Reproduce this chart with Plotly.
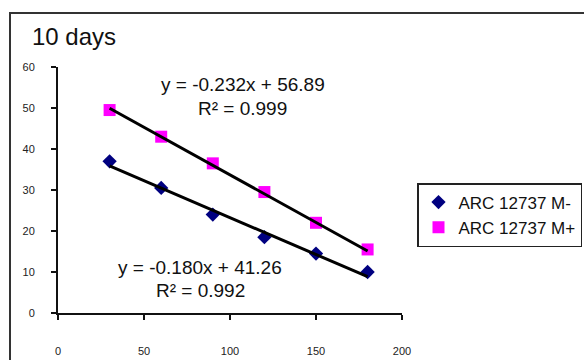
import numpy as np
import plotly.graph_objects as go

# Incubation time and measured values for the two treatments
time_points = [30, 60, 90, 120, 150, 180]
arc_minus = [37.0, 30.5, 24.0, 18.5, 14.5, 10.0]
arc_plus = [49.5, 43.0, 36.5, 29.5, 22.0, 15.5]

series_names = ["ARC 12737 M-", "ARC 12737 M+"]

# Linear trendline coefficients (slope, intercept, R²) for each series
trend_minus = (-0.180, 41.26, 0.992)
trend_plus = (-0.232, 56.89, 0.999)

x_ticks = [0, 50, 100, 150, 200]
y_ticks = [0, 10, 20, 30, 40, 50, 60]

W, H = 584, 360
ML, MR, MT, MB = 58, 182, 67, 47
pw = W - ML - MR
ph = H - MT - MB

FONT = "Liberation Sans, Arial"

fig = go.Figure()

fig.add_trace(go.Scatter(
    x=time_points, y=arc_minus, mode="markers", name=series_names[0],
    marker=dict(symbol="diamond", size=11, color="#000080"),
))
fig.add_trace(go.Scatter(
    x=time_points, y=arc_plus, mode="markers", name=series_names[1],
    marker=dict(symbol="square", size=12, color="#FF00FF"),
))

# Trendlines over the sampled time span
xt = np.array([min(time_points), max(time_points)], dtype=float)
for slope, intercept, _ in (trend_minus, trend_plus):
    fig.add_trace(go.Scatter(
        x=xt, y=slope * xt + intercept, mode="lines", showlegend=False,
        line=dict(color="black", width=3), hoverinfo="skip",
    ))


def eq_lines(t):
    slope, intercept, r2 = t
    return f"y = {slope:.3f}x + {intercept:.2f}", f"R² = {r2:.3f}"


def px_to_x(px):
    return (px - ML) / pw


def px_to_y(py):
    return (H - MB - py) / ph


eq_font = dict(family=FONT, size=19, color="#111")
for t, cx, y1, y2 in ((trend_plus, 243, 85, 108), (trend_minus, 200, 267, 290)):
    l1, l2 = eq_lines(t)
    fig.add_annotation(xref="paper", yref="paper", x=px_to_x(cx), y=px_to_y(y1),
                       text=l1, showarrow=False, font=eq_font,
                       xanchor="center", yanchor="middle")
    fig.add_annotation(xref="paper", yref="paper", x=px_to_x(cx), y=px_to_y(y2),
                       text=l2, showarrow=False, font=eq_font,
                       xanchor="center", yanchor="middle")

# Title
fig.add_annotation(xref="paper", yref="paper", x=px_to_x(30), y=px_to_y(36),
                   text="10 days", showarrow=False, xanchor="left", yanchor="middle",
                   font=dict(family=FONT, size=24, color="#111"))

# Chart-area frame
fig.add_shape(type="rect", xref="paper", yref="paper",
              x0=px_to_x(10), x1=px_to_x(600),
              y0=px_to_y(380), y1=px_to_y(13),
              line=dict(color="#333", width=2), layer="below")

tick_font = dict(family=FONT, size=11, color="#222")
fig.update_xaxes(range=[0, 200], tickvals=x_ticks, showgrid=False, zeroline=False,
                 showline=True, linecolor="#111", linewidth=2,
                 ticks="outside", ticklen=5, tickwidth=1.5, tickcolor="#111",
                 tickfont=tick_font, ticklabelstandoff=22, automargin=False)
fig.update_yaxes(range=[0, 60], tickvals=y_ticks, showgrid=False, zeroline=False,
                 showline=True, linecolor="#111", linewidth=2,
                 ticks="outside", ticklen=5, tickwidth=1.5, tickcolor="#111",
                 tickfont=tick_font, ticklabelstandoff=14, automargin=False)

fig.update_layout(
    width=W, height=H,
    margin=dict(l=ML, r=MR, t=MT, b=MB, autoexpand=False),
    paper_bgcolor="white", plot_bgcolor="white",
    legend=dict(x=px_to_x(417), y=px_to_y(183), xanchor="left", yanchor="top",
                bordercolor="#222", borderwidth=1.5, bgcolor="white",
                font=dict(family=FONT, size=17, color="#111"),
                itemwidth=30, tracegroupgap=0),
    showlegend=True,
)

fig.write_html("out.html")
